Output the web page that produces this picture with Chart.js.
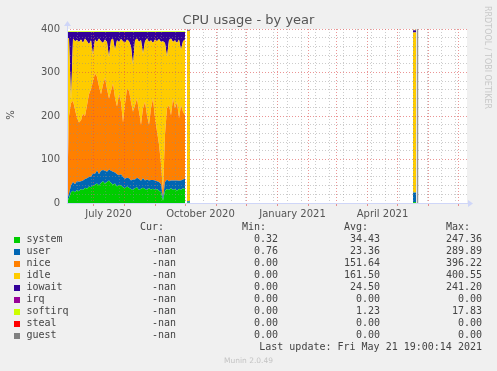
<!DOCTYPE html>
<html>
<head>
<meta charset="utf-8">
<script src="https://cdn.jsdelivr.net/npm/chart.js@4.4.1/dist/chart.umd.min.js"></script>
<style>
    html, body { margin: 0; padding: 0; background: #F0F0F0; }
    #wrap { position: relative; width: 497px; height: 371px; overflow: hidden; }
    #cpuChart { position: absolute; left: 0; top: 0; }
    .txt { position: absolute; white-space: pre; }
    .mono { font: 10px/12px "DejaVu Sans Mono", monospace; color: #444; }
    #title { left: 0; width: 497px; top: 12px; text-align: center; font: 13px/15px "DejaVu Sans", sans-serif; color: #555; }
    #yTitle { left: 1px; top: 109px; width: 20px; text-align: center; font: 10px/12px "DejaVu Sans", sans-serif; color: #555; transform: rotate(-90deg); }
    #rrdNote { left: 437px; top: 51px; width: 100px; text-align: center; font: 8px/10px "DejaVu Sans", sans-serif; color: #c8c8c8; transform: rotate(90deg); }
    #version { left: 0; width: 497px; top: 356px; text-align: center; font: 7.5px/9px "DejaVu Sans", sans-serif; color: #c4c4c4; }
    .swatch { position: absolute; width: 6px; height: 6px; }
</style>
</head>
<body>
<div id="wrap">
    <canvas id="cpuChart" width="497" height="371"></canvas>
    <div id="title" class="txt">CPU usage - by year</div>
    <div id="yTitle" class="txt">%</div>
    <div id="rrdNote" class="txt">RRDTOOL / TOBI OETIKER</div>
    <div id="legend"></div>
    <div id="version" class="txt">Munin 2.0.49</div>
</div>
<script>
// days since 5 June 2020 (left edge of the graph); null rows are gaps in the data
const days = [
    0, 2, 4, 6, 8, 10, 12, 14, 16, 18,
    20, 22, 24, 26, 28, 30, 32, 34, 36, 38,
    40, 42, 44, 46, 48, 50, 52, 54, 56, 58,
    60, 62, 64, 66, 68, 70, 72, 74, 76, 78,
    80, 82, 84, 86, 88, 90, 92, 94, 96, 98,
    100, 102, 104, 106, 108, 110, 112, 114, 116, 118,
    119, 120, 123, 124, 346, 349, 350
];

const system = [
    2, 12, 25, 28, 25, 30, 27, 32, 30, 35,
    33, 38, 36, 40, 42, 45, 40, 46, 50, 44,
    48, 52, 46, 42, 45, 38, 42, 40, 36, 34,
    38, 35, 32, 30, 34, 36, 30, 33, 35, 32,
    30, 34, 31, 33, 30, 32, 28, 25, 5, 28,
    32, 30, 34, 30, 32, 28, 33, 30, 34, 32,
    null, 1, 1, null, 2, 2, null
];
const user = [
    4, 10, 15, 20, 18, 20, 22, 18, 22, 20,
    24, 22, 25, 28, 25, 30, 26, 28, 26, 30,
    24, 25, 28, 30, 25, 28, 22, 26, 24, 22,
    20, 22, 20, 24, 20, 22, 25, 18, 22, 20,
    24, 18, 22, 20, 22, 18, 20, 18, 6, 20,
    22, 20, 18, 22, 20, 24, 18, 22, 20, 24,
    null, 3, 3, null, 22, 22, null
];
const nice = [
    4, 178, 190, 187, 172, 145, 136, 140, 153, 145,
    168, 190, 201, 212, 231, 215, 202, 176, 196, 214,
    190, 163, 184, 203, 172, 156, 186, 166, 125, 172,
    204, 201, 180, 156, 171, 182, 155, 129, 161, 180,
    148, 128, 165, 187, 143, 115, 87, 47, 14, 110,
    164, 175, 150, 188, 166, 180, 144, 173, 156, 146,
    null, 0, 0, null, 0, 0, null
];
const idle = [
    370, 178, 5, 143, 157, 180, 185, 186, 163, 178,
    147, 115, 112, 60, 78, 80, 110, 122, 96, 88,
    108, 95, 117, 103, 110, 152, 120, 145, 187, 140,
    114, 114, 128, 108, 149, 138, 160, 195, 125, 140,
    176, 190, 156, 128, 181, 207, 242, 280, 347, 210,
    118, 150, 176, 130, 156, 136, 181, 127, 162, 174,
    null, 392, 392, null, 368, 368, null
];
const iowait = [
    13, 15, 158, 15, 21, 18, 23, 17, 25, 15,
    21, 28, 19, 53, 17, 23, 15, 21, 25, 17,
    23, 58, 18, 15, 41, 19, 23, 16, 21, 25,
    17, 21, 33, 75, 19, 15, 23, 18, 50, 21,
    15, 23, 19, 25, 17, 21, 16, 23, 21, 25,
    57, 18, 15, 23, 19, 25, 17, 41, 21, 17,
    null, 2, 2, null, 5, 5, null
];
const softirq = [
    1, 2, 2, 2, 2, 2, 2, 2, 2, 2,
    2, 2, 2, 2, 2, 2, 2, 2, 2, 2,
    2, 2, 2, 2, 2, 2, 2, 2, 2, 2,
    2, 2, 2, 2, 2, 2, 2, 2, 2, 2,
    2, 2, 2, 2, 2, 2, 2, 2, 2, 2,
    2, 2, 2, 2, 2, 2, 2, 2, 2, 2,
    null, 0, 0, null, 1, 1, null
];

// legend table
const seriesNames = ['system', 'user', 'nice', 'idle', 'iowait', 'irq', 'softirq', 'steal', 'guest'];
const seriesColors = ['#00CC00', '#0066B3', '#FF8000', '#FFCC00', '#330099', '#990099', '#CCFF00', '#FF0000', '#808080'];
const curValues = ['-nan', '-nan', '-nan', '-nan', '-nan', '-nan', '-nan', '-nan', '-nan'];
const minValues = ['0.32', '0.76', '0.00', '0.00', '0.00', '0.00', '0.00', '0.00', '0.00'];
const avgValues = ['34.43', '23.36', '151.64', '161.50', '24.50', '0.00', '1.23', '0.00', '0.00'];
const maxValues = ['247.36', '289.89', '396.22', '400.55', '241.20', '0.00', '17.83', '0.00', '0.00'];
const lastUpdate = 'Last update: Fri May 21 19:00:14 2021';

// axes
const monthStartDays = [26, 57, 88, 118, 149, 179, 210, 241, 269, 300, 330, 361, 391];
const minorGridDays = [10, 24, 38, 52, 66, 80, 94, 108, 122, 136, 150, 164, 178, 192, 206, 220, 234, 248, 262, 276, 290, 304, 318, 332, 346, 360, 374, 388];
const monthLabelDays = [41.5, 133.5, 225.5, 315.5];
const monthLabels = ['July 2020', 'October 2020', 'January 2021', 'April 2021'];
const yGridValues = [0, 20, 40, 60, 80, 100, 120, 140, 160, 180, 200, 220, 240, 260, 280, 300, 320, 340, 360, 380, 400];
const yLabelValues = [0, 100, 200, 300, 400];
const nowDay = 350.5;

const plotted = [
    ['system', system], ['user', user], ['nice', nice],
    ['idle', idle], ['iowait', iowait], ['softirq', softirq]
];

const MGRID = 'rgba(222, 79, 79, 0.6)';
const GRID = 'rgba(143, 143, 143, 0.45)';
const AXIS = '#CFD6F8';

const canvasBack = {
    id: 'canvasBack',
    beforeDraw(chart) {
        const { ctx, chartArea: a } = chart;
        ctx.save();
        ctx.fillStyle = '#FFFFFF';
        ctx.fillRect(a.left, a.top, a.right - a.left, a.bottom - a.top);
        ctx.restore();
    }
};

const axesAndArrows = {
    id: 'axesAndArrows',
    afterDraw(chart) {
        const { ctx, chartArea: a, scales } = chart;
        ctx.save();
        // current time rule
        const nx = scales.x.getPixelForValue(nowDay);
        ctx.strokeStyle = '#999';
        ctx.lineWidth = 1.5;
        ctx.beginPath();
        ctx.moveTo(nx, a.top);
        ctx.lineTo(nx, a.bottom);
        ctx.stroke();

        ctx.strokeStyle = AXIS;
        ctx.fillStyle = AXIS;
        ctx.lineWidth = 1;
        ctx.beginPath();
        ctx.moveTo(a.left + 0.5, a.bottom);
        ctx.lineTo(a.left + 0.5, a.top - 3);
        ctx.moveTo(a.left, a.bottom + 0.5);
        ctx.lineTo(a.right + 2, a.bottom + 0.5);
        ctx.stroke();
        ctx.beginPath();
        ctx.moveTo(a.left - 3, a.top - 3);
        ctx.lineTo(a.left + 4, a.top - 3);
        ctx.lineTo(a.left + 0.5, a.top - 8);
        ctx.closePath();
        ctx.fill();
        ctx.beginPath();
        ctx.moveTo(a.right + 1, a.bottom - 3);
        ctx.lineTo(a.right + 1, a.bottom + 4);
        ctx.lineTo(a.right + 6, a.bottom + 0.5);
        ctx.closePath();
        ctx.fill();
        ctx.restore();
    }
};

const tickFont = { family: 'DejaVu Sans', size: 10 };

new Chart(document.getElementById('cpuChart'), {
    type: 'line',
    data: {
        datasets: plotted.map(([name, vals], i) => ({
            label: name,
            data: days.map((d, k) => ({ x: d, y: vals[k] })),
            backgroundColor: seriesColors[seriesNames.indexOf(name)],
            borderWidth: 0,
            pointRadius: 0,
            tension: 0,
            spanGaps: false,
            fill: i === 0 ? 'origin' : '-1'
        }))
    },
    options: {
        responsive: false,
        animation: false,
        devicePixelRatio: 1,
        layout: { padding: { left: 0, top: 29, right: 30, bottom: 148 } },
        plugins: { legend: { display: false }, title: { display: false }, tooltip: { enabled: false } },
        scales: {
            x: {
                type: 'linear',
                min: 0,
                max: 400,
                afterFit: s => { s.height = 20; },
                afterBuildTicks: s => {
                    const vals = [...minorGridDays, ...monthStartDays, ...monthLabelDays].sort((p, q) => p - q);
                    s.ticks = vals.map(v => ({ value: v }));
                },
                ticks: {
                    autoSkip: false,
                    maxRotation: 0,
                    minRotation: 0,
                    padding: 2,
                    font: tickFont,
                    color: '#555',
                    callback: v => {
                        const k = monthLabelDays.indexOf(v);
                        return k >= 0 ? monthLabels[k] : '';
                    }
                },
                grid: {
                    z: 1,
                    lineWidth: 1,
                    color: c => monthStartDays.includes(c.tick.value) ? MGRID
                        : (minorGridDays.includes(c.tick.value) ? GRID : 'rgba(0,0,0,0)'),
                    tickColor: c => monthStartDays.includes(c.tick.value) ? MGRID : 'rgba(0,0,0,0)',
                    tickLength: 3,
                    tickBorderDash: []
                },
                border: { display: false, dash: [1, 2] }
            },
            y: {
                stacked: true,
                min: 0,
                max: 400,
                afterFit: s => { s.width = 67; },
                afterBuildTicks: s => { s.ticks = yGridValues.map(v => ({ value: v })); },
                ticks: {
                    autoSkip: false,
                    padding: 7,
                    font: tickFont,
                    color: '#555',
                    callback: v => yLabelValues.includes(v) ? String(v) : ''
                },
                grid: {
                    z: 1,
                    lineWidth: 1,
                    drawTicks: false,
                    color: c => yLabelValues.includes(c.tick.value) ? MGRID : GRID
                },
                border: { display: false, dash: [1, 2] }
            }
        }
    },
    plugins: [canvasBack, axesAndArrows]
});

// legend below the graph
const legend = document.getElementById('legend');
function addText(text, top, opts) {
    const el = document.createElement('div');
    el.className = 'txt mono';
    el.textContent = text;
    el.style.top = top + 'px';
    if (opts.right !== undefined) el.style.right = (497 - opts.right) + 'px';
    else el.style.left = opts.left + 'px';
    legend.appendChild(el);
}
const colRight = [176, 278, 380, 482];
const headers = ['Cur:', 'Min:', 'Avg:', 'Max:'];
headers.forEach((h, i) => addText(h, 221, { right: colRight[i] - 12 }));
seriesNames.forEach((name, i) => {
    const top = 233 + i * 12;
    const sw = document.createElement('div');
    sw.className = 'swatch';
    sw.style.left = '14px';
    sw.style.top = (top + 4) + 'px';
    sw.style.background = seriesColors[i];
    legend.appendChild(sw);
    addText(name, top, { left: 26.5 });
    [curValues[i], minValues[i], avgValues[i], maxValues[i]].forEach((v, c) => addText(v, top, { right: colRight[c] }));
});
addText(lastUpdate, 341, { right: 482 });
</script>
</body>
</html>
